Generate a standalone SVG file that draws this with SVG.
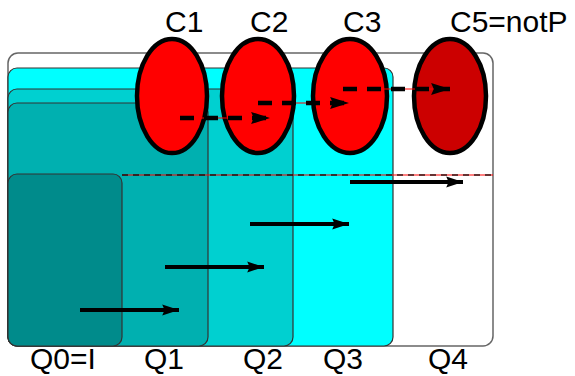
<svg xmlns="http://www.w3.org/2000/svg" width="575" height="376" viewBox="0 0 575 376">
<style>
.box{stroke:#333;stroke-width:1.2}
.lbl{font-family:"Liberation Sans",Arial,sans-serif;font-size:30px;fill:#000}
.ell{stroke:#000;stroke-width:4.5}
.arr{stroke:#000;stroke-width:4;fill:none}
.dash{stroke:#000;stroke-width:4.5;stroke-dasharray:14,10;fill:none}
.thinred{stroke:#f00;stroke-width:1;fill:none}
</style>
<defs>
<marker id="ah" markerWidth="5" markerHeight="4" refX="4.2" refY="2" orient="auto" markerUnits="strokeWidth">
<path d="M0,0.65 L4.2,2 L0,3.35 L0.6,2 Z" fill="#000"/>
</marker>
</defs>
<g id="Q4"><rect x="8" y="53" width="485" height="293" rx="10" fill="#fff" stroke="#666" stroke-width="1.5"/></g>
<g id="Q3"><rect class="box" x="8" y="68" width="385" height="278" rx="9" fill="#00ffff"/></g>
<g id="Q2"><rect class="box" x="8" y="89" width="285" height="257" rx="9" fill="#00d0d0"/></g>
<g id="Q1"><rect class="box" x="8" y="103" width="200" height="243" rx="9" fill="#00b0b0"/></g>
<g id="Q0"><rect class="box" x="8" y="174" width="114" height="172" rx="9" fill="#008b8b"/></g>
<g id="redline">
<line x1="122" y1="175" x2="493" y2="175" stroke="#f00" stroke-opacity="0.5" stroke-width="1.8"/>
<line x1="122" y1="175" x2="493" y2="175" stroke="#000" stroke-width="1.6" stroke-dasharray="6,5" opacity="0.8"/>
</g>
<g id="C1"><ellipse class="ell" cx="172" cy="96" rx="35" ry="57" fill="#f00"/></g>
<g id="C2"><ellipse class="ell" cx="258" cy="96" rx="36" ry="57" fill="#f00"/></g>
<g id="C3"><ellipse class="ell" cx="350" cy="96" rx="37" ry="57" fill="#f00"/></g>
<g id="C5"><ellipse class="ell" cx="450" cy="96" rx="36" ry="57" fill="#cc0000"/></g>
<g id="connectors">
<line class="thinred" x1="180" y1="118" x2="268" y2="118"/>
<line class="dash" x1="180" y1="118" x2="270" y2="118" marker-end="url(#ah)"/>
<line class="thinred" x1="258" y1="103" x2="347" y2="103"/>
<line class="dash" x1="258" y1="103" x2="349" y2="103" marker-end="url(#ah)"/>
<line class="thinred" x1="343" y1="89" x2="448" y2="89"/>
<line class="dash" x1="343" y1="89" x2="450" y2="89" marker-end="url(#ah)"/>
<line class="arr" x1="80" y1="310" x2="179" y2="310" marker-end="url(#ah)"/>
<line class="arr" x1="165" y1="267" x2="264" y2="267" marker-end="url(#ah)"/>
<line class="arr" x1="250" y1="224" x2="349" y2="224" marker-end="url(#ah)"/>
<line class="arr" x1="350" y1="182" x2="463" y2="182" marker-end="url(#ah)"/>
</g>
<g id="labels">
<text class="lbl" x="165" y="32">C1</text>
<text class="lbl" x="250" y="32">C2</text>
<text class="lbl" x="343" y="32">C3</text>
<text class="lbl" x="450" y="32">C5=notP</text>
<text class="lbl" x="30" y="369">Q0=I</text>
<text class="lbl" x="144" y="369">Q1</text>
<text class="lbl" x="243" y="369">Q2</text>
<text class="lbl" x="323" y="369">Q3</text>
<text class="lbl" x="428" y="369">Q4</text>
</g>
</svg>
